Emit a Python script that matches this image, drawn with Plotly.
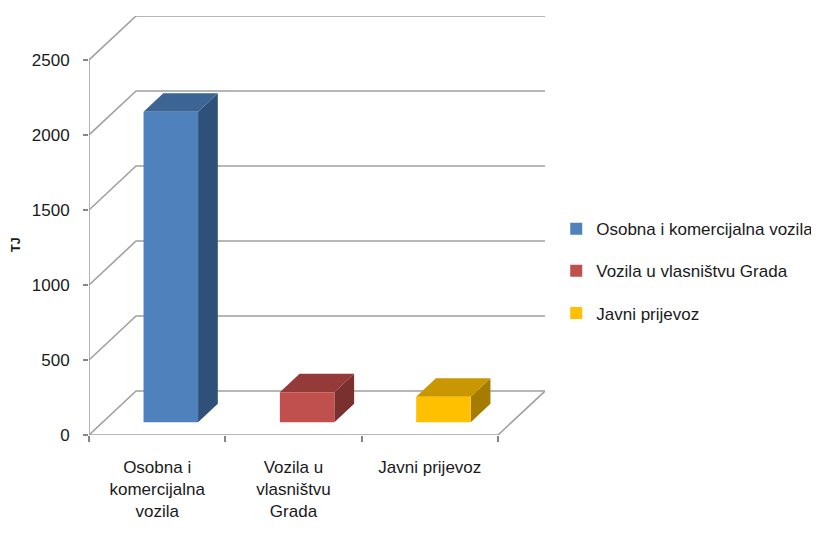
import plotly.graph_objects as go

# data
categories = ["Osobna i komercijalna vozila", "Vozila u vlasništvu Grada", "Javni prijevoz"]
tick_labels = ["Osobna i<br>komercijalna<br>vozila", "Vozila u<br>vlasništvu<br>Grada", "Javni prijevoz"]
values_tj = [2070, 200, 170]
y_ticks = [0, 500, 1000, 1500, 2000, 2500]

front_colors = ["#4F81BD", "#C0504D", "#FFC000"]
top_colors = ["#3C6595", "#943B39", "#C99700"]
side_colors = ["#2F5179", "#7A302E", "#A57C00"]

# fake 3d: depth offset of the back wall, in axis units
DX = 0.345
DY = 293
D0, D1 = 0.29, 0.71   # bar front / back depth fraction
HALF = 0.2
GRID = "#A0A0A0"
FONT = "Liberation Sans, Arial, sans-serif"

fig = go.Figure()

# side wall diagonals + back wall lines
gx, gy = [], []
for v in y_ticks:
    gx += [0, DX, len(categories) + DX, None]
    gy += [v, v + DY, v + DY, None]
# floor: front edge, right edge, front axis
gx += [0, len(categories), len(categories) + DX, None, 0, 0]
gy += [0, 0, DY, None, 0, y_ticks[-1]]
fig.add_trace(go.Scatter(x=gx, y=gy, mode="lines", line=dict(color=GRID, width=1.6),
                         showlegend=False, hoverinfo="skip", cliponaxis=False))

def poly(pts):
    xs = [p[0] for p in pts] + [pts[0][0]]
    ys = [p[1] for p in pts] + [pts[0][1]]
    return xs, ys

for i, v in enumerate(values_tj):
    c = i + 0.5
    xl, xr = c - HALF, c + HALF
    ox0, oy0 = D0 * DX, D0 * DY
    ox1, oy1 = D1 * DX, D1 * DY
    faces = [
        ([(xr + ox0, oy0), (xr + ox1, oy1), (xr + ox1, v + oy1), (xr + ox0, v + oy0)], side_colors[i]),
        ([(xl + ox0, v + oy0), (xr + ox0, v + oy0), (xr + ox1, v + oy1), (xl + ox1, v + oy1)], top_colors[i]),
        ([(xl + ox0, oy0), (xr + ox0, oy0), (xr + ox0, v + oy0), (xl + ox0, v + oy0)], front_colors[i]),
    ]
    for pts, col in faces:
        xs, ys = poly(pts)
        fig.add_trace(go.Scatter(x=xs, y=ys, mode="lines", fill="toself", fillcolor=col,
                                 line=dict(width=0, color=col), showlegend=False,
                                 hoverinfo="skip", cliponaxis=False))

# legend entries
for i, name in enumerate(categories):
    fig.add_trace(go.Scatter(x=[None], y=[None], mode="markers", name=name,
                             legendgroup=str(i),
                             marker=dict(symbol="square", size=10, color=front_colors[i])))

# page has an 8px body margin, so the figure is sized to fit the window
fig.update_layout(
    width=811, height=525,
    margin=dict(l=81, r=274, t=8, b=98),
    plot_bgcolor="white", paper_bgcolor="white",
    font=dict(family=FONT, size=17, color="#1a1a1a"),
    xaxis=dict(range=[0, len(categories) + DX], tickvals=[0.5, 1.5, 2.5], ticktext=tick_labels,
               ticks="", showgrid=False, zeroline=False, showline=False,
               ticklabelstandoff=20, tickfont=dict(size=17)),
    xaxis2=dict(range=[0, len(categories) + DX], overlaying="x", side="bottom", matches="x",
                tickvals=[0, 1, 2, 3], ticks="outside", ticklen=6, tickcolor="#868686",
                tickwidth=1.6, showticklabels=False, showgrid=False, zeroline=False),
    yaxis=dict(range=[0, y_ticks[-1] + DY], tickvals=y_ticks, ticks="outside", ticklen=5,
               tickcolor="#868686", tickwidth=1.6, showgrid=False, zeroline=False,
               showline=False, ticklabelstandoff=10, tickfont=dict(size=17)),
    legend=dict(xref="container", yref="container", x=0.676, y=0.613, xanchor="left",
                yanchor="top", font=dict(size=17), tracegroupgap=17, traceorder="grouped",
                itemsizing="constant"),
    annotations=[dict(text="<b>TJ</b>", xref="paper", yref="paper", x=-0.162, y=0.453,
                      xanchor="center", yanchor="middle",
                      textangle=-90, showarrow=False, font=dict(size=13))],
)
# dummy trace so xaxis2 is drawn
fig.add_trace(go.Scatter(x=[None], y=[None], xaxis="x2", showlegend=False))

fig.write_html("out.html")
